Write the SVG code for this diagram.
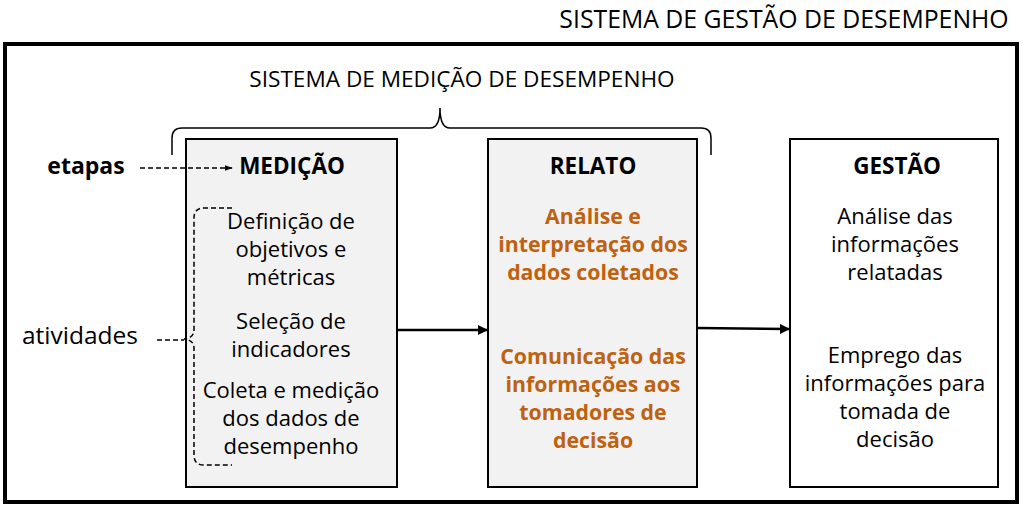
<svg xmlns="http://www.w3.org/2000/svg" width="1023" height="508" viewBox="0 0 1023 508">
<style>
text{font-family:"Open Sans","Liberation Sans",sans-serif;font-size:22px;fill:#000;text-anchor:middle}
.b{font-weight:bold;font-size:22.5px}
.o{fill:#BF6210;font-weight:bold;font-size:21.3px}
.t{font-size:24.8px}
.s{font-size:22.6px}
.box{stroke:#000;stroke-width:2}
.dash{fill:none;stroke:#000;stroke-width:1.5;stroke-dasharray:5 3}
.line{fill:none;stroke:#000;stroke-width:2.5}
</style>
<defs>
<marker id="ah" viewBox="0 0 10 10" refX="9" refY="5" markerWidth="4" markerHeight="4" orient="auto"><path d="M0,0L10,5L0,10z" fill="#000"/></marker>
<marker id="ahs" viewBox="0 0 10 10" refX="9" refY="5" markerWidth="8" markerHeight="8" orient="auto" markerUnits="userSpaceOnUse"><path d="M0,1.5L10,5L0,8.5z" fill="#000"/></marker>
</defs>
<rect width="1023" height="508" fill="#fff"/>
<g id="gestao-sistema">
<text x="784" y="28" class="t">SISTEMA DE GESTÃO DE DESEMPENHO</text>
<rect x="5" y="44" width="1012" height="458" fill="none" stroke="#000" stroke-width="4"/>
</g>
<g id="medicao-sistema">
<text x="462" y="87" class="s">SISTEMA DE MEDIÇÃO DE DESEMPENHO</text>
<path d="M172,155 V138 Q172,128 182,128 H430 Q440,128 440,108 Q440,128 450,128 H701 Q711,128 711,138 V155" fill="none" stroke="#000" stroke-width="1.5"/>
</g>
<g id="medicao">
<rect x="186" y="139" width="211" height="348" fill="#F2F2F2" class="box"/>
<text x="292" y="174" class="b">MEDIÇÃO</text>
<text x="291" y="229">Definição de</text>
<text x="291" y="257">objetivos e</text>
<text x="291" y="285">métricas</text>
<text x="291" y="329">Seleção de</text>
<text x="291" y="357">indicadores</text>
<text x="291" y="398">Coleta e medição</text>
<text x="291" y="426">dos dados de</text>
<text x="291" y="454">desempenho</text>
</g>
<g id="relato">
<rect x="488" y="139" width="209" height="348" fill="#F2F2F2" class="box"/>
<text x="593" y="174" class="b">RELATO</text>
<text x="593" y="224" class="o">Análise e</text>
<text x="593" y="252" class="o">interpretação dos</text>
<text x="593" y="280" class="o">dados coletados</text>
<text x="593" y="364" class="o">Comunicação das</text>
<text x="593" y="392" class="o">informações aos</text>
<text x="593" y="420" class="o">tomadores de</text>
<text x="593" y="448" class="o">decisão</text>
</g>
<g id="gestao">
<rect x="790" y="139" width="208" height="348" fill="#fff" class="box"/>
<text x="897" y="174" class="b">GESTÃO</text>
<text x="895" y="224">Análise das</text>
<text x="895" y="252">informações</text>
<text x="895" y="280">relatadas</text>
<text x="895" y="363">Emprego das</text>
<text x="895" y="391">informações para</text>
<text x="895" y="419">tomada de</text>
<text x="895" y="447">decisão</text>
</g>
<g id="etapas">
<text x="86" y="174" class="b" style="font-size:23px">etapas</text>
</g>
<g id="atividades">
<text x="80" y="344" style="font-size:24.5px">atividades</text>
</g>
<g id="connectors">
<path d="M140,168 H232" class="dash" marker-end="url(#ahs)"/>
<path d="M232,208 H204 Q194,208 194,218 V330 Q194,338 184,339 Q194,340 194,348 V455 Q194,465 204,465 H232" class="dash"/>
<path d="M157,340 H184" class="dash"/>
<path d="M397,330 H487" class="line" marker-end="url(#ah)"/>
<path d="M697,328 L789,329" class="line" marker-end="url(#ah)"/>
</g>
</svg>
